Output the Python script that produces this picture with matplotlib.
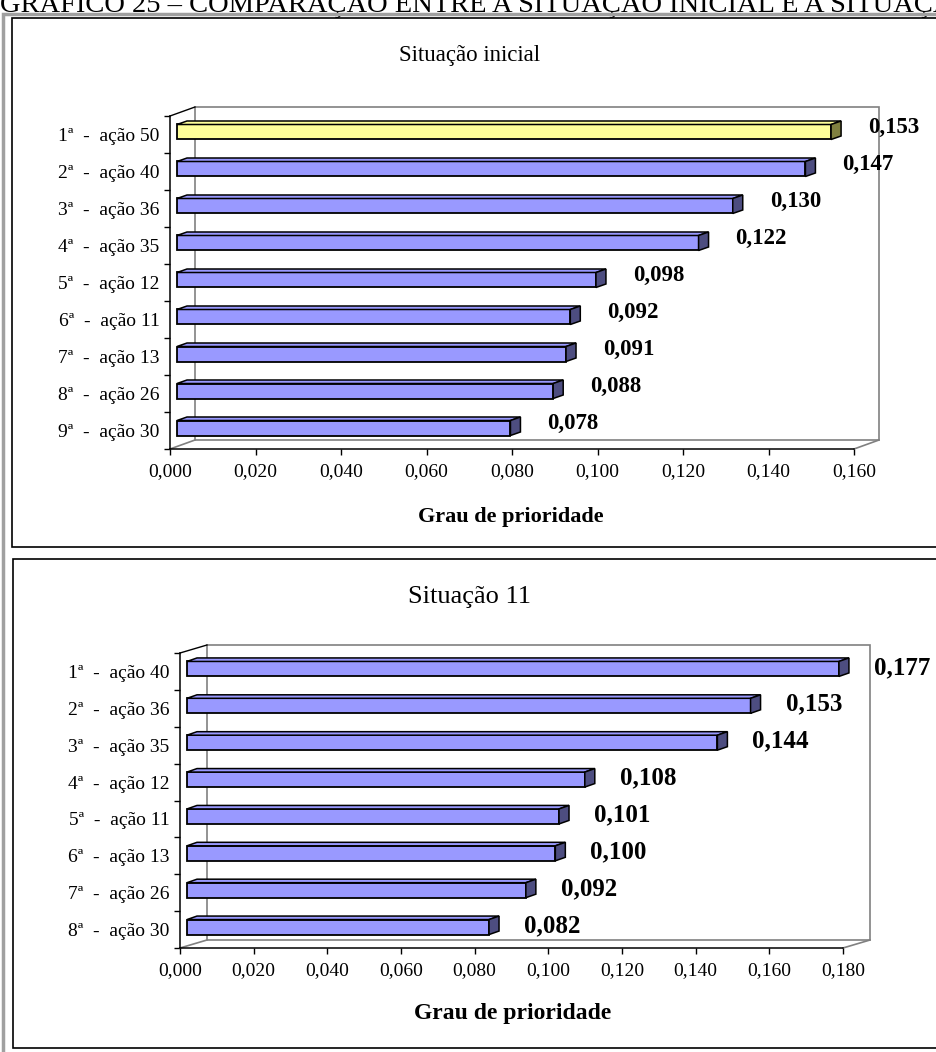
import numpy as np
import matplotlib
matplotlib.use("Agg")
import matplotlib.pyplot as plt
from matplotlib.patches import Polygon, Rectangle
from matplotlib.lines import Line2D
from matplotlib.ticker import FixedLocator, MultipleLocator, FuncFormatter

plt.rcParams['font.family'] = ['Liberation Serif', 'DejaVu Serif']

# Situação inicial
cats1 = ["1ª  -  ação 50", "2ª  -  ação 40", "3ª  -  ação 36", "4ª  -  ação 35",
         "5ª  -  ação 12", "6ª  -  ação 11", "7ª  -  ação 13", "8ª  -  ação 26",
         "9ª  -  ação 30"]
vals1 = [0.153, 0.147, 0.130, 0.122, 0.098, 0.092, 0.091, 0.088, 0.078]
xmax1 = 0.16

# Situação 11
cats2 = ["1ª  -  ação 40", "2ª  -  ação 36", "3ª  -  ação 35", "4ª  -  ação 12",
         "5ª  -  ação 11", "6ª  -  ação 13", "7ª  -  ação 26", "8ª  -  ação 30"]
vals2 = [0.177, 0.153, 0.144, 0.108, 0.101, 0.100, 0.092, 0.082]
xmax2 = 0.18

header = "GRÁFICO 25 – COMPARAÇÃO ENTRE A SITUAÇÃO INICIAL E A SITUAÇÃO 11"

W, H = 936, 1052
fig = plt.figure(figsize=(W / 100, H / 100), dpi=100)
fig.patch.set_facecolor("white")

BLUE, BLUE_SIDE = "#9999ff", "#4d4d80"
YEL, YEL_SIDE = "#ffff99", "#808040"


def px_axes(left, top, right, bottom):
    return fig.add_axes([left / W, 1 - bottom / H, (right - left) / W, (bottom - top) / H])


def fig_rect(left, top, right, bottom, **kw):
    fig.add_artist(Rectangle((left / W, 1 - bottom / H), (right - left) / W, (bottom - top) / H,
                             transform=fig.transFigure, zorder=-5, **kw))


def comma(x, pos=None):
    return f"{x:.3f}".replace(".", ",")


def draw_panel(ax, cats, vals, xmax, wall, lab_off, lab_size, hl=None):
    n = len(cats)
    ax.set_xlim(0, xmax)
    ax.set_ylim(n - 0.5, -0.5)
    ax.patch.set_visible(False)
    bb = ax.get_window_extent()
    kx = xmax / bb.width
    ky = n / bb.height
    wx, wy = wall[0] * kx, wall[1] * ky

    # back wall and floor
    wall_pts = [(wx, -0.5 - wy), (xmax + wx, -0.5 - wy),
                (xmax + wx, n - 0.5 - wy), (wx, n - 0.5 - wy)]
    ax.add_patch(Polygon(wall_pts, closed=True, facecolor="white", edgecolor="#808080",
                         lw=1.2, zorder=0, clip_on=False))
    ax.add_line(Line2D([0, wx], [n - 0.5, n - 0.5 - wy], color="#808080", lw=1.2, clip_on=False))
    ax.add_line(Line2D([xmax, xmax + wx], [n - 0.5, n - 0.5 - wy], color="#808080", lw=1.2,
                       clip_on=False))
    ax.add_line(Line2D([0, wx], [-0.5, -0.5 - wy], color="black", lw=1, clip_on=False))

    # 3d bars
    h = 15 * ky
    ox, oy = 7 * kx, 2.5 * ky
    dx, dy = 10 * kx, 3.5 * ky
    ys = np.arange(n) - oy
    colors = [YEL if i == hl else BLUE for i in range(n)]
    sides = [YEL_SIDE if i == hl else BLUE_SIDE for i in range(n)]
    ax.barh(ys, vals, height=h, left=ox, color=colors, edgecolor="black", lw=1.3,
            zorder=3, clip_on=False)
    for i, v in enumerate(vals):
        yt, yb = ys[i] - h / 2, ys[i] + h / 2
        x0, x1 = ox, ox + v
        ax.add_patch(Polygon([(x0, yt), (x1, yt), (x1 + dx, yt - dy), (x0 + dx, yt - dy)],
                             closed=True, facecolor=colors[i], edgecolor="black", lw=1.1,
                             zorder=3, clip_on=False))
        ax.add_patch(Polygon([(x1, yt), (x1, yb), (x1 + dx, yb - dy), (x1 + dx, yt - dy)],
                             closed=True, facecolor=sides[i], edgecolor="black", lw=1.1,
                             zorder=3, clip_on=False))
        ax.annotate(comma(v), xy=(v, i), xytext=lab_off, textcoords="offset pixels",
                    ha="left", va="center", fontsize=lab_size, fontweight="bold",
                    annotation_clip=False)

    # axes
    for s in ["top", "right"]:
        ax.spines[s].set_visible(False)
    for s in ["left", "bottom"]:
        ax.spines[s].set_linewidth(1.1)
    ax.set_yticks(range(n))
    ax.set_yticklabels(cats, fontsize=14)
    ax.yaxis.set_minor_locator(FixedLocator(np.arange(-0.5, n, 1)))
    ax.tick_params(axis="y", which="major", length=0, pad=7.5)
    ax.tick_params(axis="y", which="minor", length=4.5, width=1)
    ax.xaxis.set_major_locator(MultipleLocator(0.02))
    ax.xaxis.set_major_formatter(FuncFormatter(comma))
    ax.tick_params(axis="x", length=4, width=1, pad=6, labelsize=14)


# outer frame
fig.text(0, 1 - 12 / H, header, ha="left", va="baseline", fontsize=20.5, zorder=-6)
fig_rect(3, 14, W + 5, H + 5, facecolor="none", edgecolor="#a0a0a0", lw=2.5)
fig_rect(12, 18, W + 10, 547, facecolor="white", edgecolor="black", lw=1.2)
fig_rect(13, 559, W + 10, 1048, facecolor="white", edgecolor="black", lw=1.2)

ax1 = px_axes(170, 116, 854, 449)
draw_panel(ax1, cats1, vals1, xmax1, (25, 9), (44, 7), 16.5, hl=0)
fig.text(470 / W, 1 - 55 / H, "Situação inicial", ha="center", va="center", fontsize=16.5)
fig.text(511 / W, 1 - 517 / H, "Grau de prioridade", ha="center", va="center", fontsize=16,
         fontweight="bold")

ax2 = px_axes(180, 653, 843, 948)
draw_panel(ax2, cats2, vals2, xmax2, (27, 8), (42, 4), 18)
fig.text(470 / W, 1 - 597 / H, "Situação 11", ha="center", va="center", fontsize=19)
fig.text(513 / W, 1 - 1013 / H, "Grau de prioridade", ha="center", va="center", fontsize=17,
         fontweight="bold")

fig.savefig("out.png", dpi=100)
